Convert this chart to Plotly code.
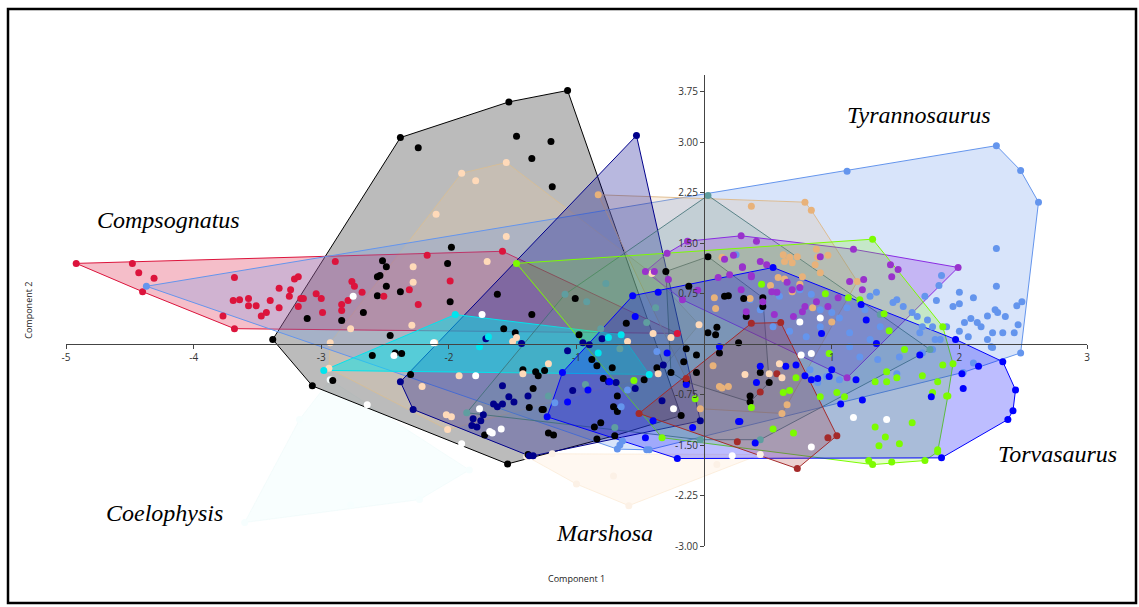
import plotly.graph_objects as go

# ---------------- data (Component 1, Component 2) ----------------
coelophysis_pts = [(-3.60, -2.65), (-3.17, -1.12), (-2.93, -0.53), (-1.84, -1.87),
                   (-2.23, -2.31), (-2.77, -2.39)]

marshosa_pts = [(-0.59, -2.40), (-1.00, -2.08), (-1.39, -1.67), (0.44, -1.64),
                (0.10, -1.79), (-0.71, -1.96), (-1.19, -1.63)]

black_pts = [(-3.38, 0.07), (-2.38, 3.07), (-1.53, 3.60), (-1.07, 3.77), (-0.18, -1.06),
             (-1.54, -1.78), (-3.07, -0.62), (-2.24, 2.92), (-1.47, 3.09), (-1.20, 3.01),
             (-1.35, 2.76), (-1.19, 2.34), (-1.98, 1.44), (-2.52, 1.24), (-2.49, 1.15),
             (-2.54, 1.02), (-2.49, 0.86), (-2.38, 0.78), (-2.01, 1.20), (-1.99, 0.63),
             (-1.62, 0.74), (-1.35, 0.44), (-1.57, 0.23), (-1.48, 0.17), (-1.01, 0.68),
             (-0.98, 0.14), (-0.61, 0.31), (-2.56, 1.00), (-2.56, 0.72), (-2.67, 0.47),
             (-3.11, 0.38), (-2.84, 0.35), (-2.91, -0.54), (-2.60, -0.17), (-2.46, 0.13),
             (-2.42, -0.13), (-2.37, -0.14), (-2.30, -0.45), (-1.42, -0.38), (-1.32, -0.41),
             (-1.30, -0.47), (-1.25, -0.39), (-1.34, -0.66), (-1.37, -0.94), (-1.27, -0.97),
             (-1.72, -1.35), (-1.22, -1.32), (-1.18, -1.35), (-1.38, -1.64), (-0.88, -0.23),
             (-0.84, -0.32), (-0.72, -0.35), (-0.79, -0.51), (-0.68, -0.77), (-0.71, -0.93),
             (-0.68, -1.00), (-0.47, -0.53), (-0.37, -0.35), (-0.86, -1.23), (-0.81, -1.17),
             (-0.84, -1.41), (-0.70, -1.36), (-1.26, -0.97)]

black2_pts = [(-0.30, 1.08), (0.03, 1.30), (-0.12, 0.86), (0.16, 0.71), (0.19, 0.72),
              (-0.14, -0.07), (-0.06, -0.16), (0.03, 0.17), (0.09, 0.14), (0.10, 0.25),
              (0.12, -0.13), (0.27, 0.02), (0.36, -0.86), (0.36, -0.77), (-0.16, -0.26),
              (-0.14, -0.56), (-0.06, -0.42), (0.31, 0.68), (0.46, 0.69), (0.46, 0.56),
              (0.33, 0.41), (0.44, -0.42), (0.51, -0.57), (-0.26, -0.42)]

peach_pts = [(-1.90, 2.54), (-1.55, 2.70), (-1.79, 2.43), (-2.10, 1.93), (-1.55, 1.60),
             (-1.70, 1.23), (-2.28, 1.15), (-2.28, 0.92), (-2.29, 0.28), (-2.77, 0.23),
             (-2.94, -0.36), (-2.93, 0.02), (-1.92, -0.47), (-2.21, -0.63), (-2.02, -1.05),
             (-1.98, -1.08), (-2.01, -1.27), (-2.11, 0.02), (-1.47, 0.10), (-1.50, 0.04),
             (-1.22, -0.29), (-1.42, -0.44), (-0.40, 0.16), (-0.26, 0.10), (-0.60, 0.04),
             (-0.04, 0.29), (-0.36, -0.44), (-0.41, 1.05)]

peach2_pts = [(0.32, -0.45), (0.51, -0.44), (0.61, -0.50), (0.59, -0.29)]

crimson_pts = [(-4.92, 1.20), (-4.48, 1.20), (-4.43, 1.06), (-4.31, 0.98), (-4.40, 0.78),
               (-3.77, 0.42), (-3.68, 0.23), (-3.68, 0.99), (-3.69, 0.65), (-3.64, 0.66),
               (-3.57, 0.68), (-3.57, 0.57), (-3.51, 0.57), (-3.47, 0.42), (-3.43, 0.47),
               (-3.40, 0.65), (-3.33, 0.54), (-3.33, 0.83), (-3.25, 0.71), (-3.24, 0.81),
               (-3.21, 0.97), (-3.18, 1.00), (-3.18, 0.56), (-3.16, 0.68), (-3.14, 0.68),
               (-3.04, 0.75), (-3.00, 0.68), (-2.99, 0.47), (-2.89, 1.23), (-2.84, 0.59),
               (-2.84, 0.50), (-2.79, 0.65), (-2.76, 0.93), (-2.74, 0.86), (-2.68, 0.77),
               (-2.17, 1.32), (-2.31, 0.81), (-2.24, 0.59), (-2.51, 0.71), (-1.99, 0.94),
               (-1.58, 1.38), (-0.21, 0.16)]

cornflower_pts = [(-4.37, 0.86), (1.12, 2.57), (2.29, 2.95), (2.48, 2.58), (2.62, 2.11),
                  (2.48, -0.13), (-0.43, -1.57), (-0.66, -1.50), (-0.68, -1.56), (-0.45, -1.57),
                  (2.29, 1.42), (2.29, 0.86), (2.00, 0.77), (2.11, 0.69), (1.86, 1.02),
                  (1.95, 0.56), (2.00, 0.60), (1.82, 0.65), (1.73, 0.71), (2.22, 0.42),
                  (2.28, 0.51), (2.30, 0.47), (2.36, 0.41), (2.45, 0.57), (2.49, 0.63),
                  (2.46, 0.29), (2.43, 0.17), (2.34, 0.17), (2.26, 0.17), (2.25, -0.04),
                  (2.22, 0.07), (2.17, 0.26), (2.14, 0.32), (2.09, 0.38), (2.04, 0.32),
                  (2.07, 0.11), (1.90, 0.26), (2.00, 0.19), (1.79, 0.26), (1.75, 0.36),
                  (1.71, 0.26), (1.67, 0.41), (1.63, 0.47), (1.56, 0.56), (1.51, 0.66),
                  (1.48, 0.62), (1.35, 0.77), (1.30, 0.71), (2.11, -0.28), (2.26, -0.05),
                  (2.03, -0.42), (1.85, 0.07), (1.79, -0.08), (1.71, -0.13), (1.53, -0.19),
                  (1.51, -0.44), (1.36, -0.23), (1.22, -0.19), (1.14, -0.04), (1.06, -0.53),
                  (0.96, -0.48), (0.89, -0.57), (0.83, -0.38), (1.84, 0.87), (1.38, 0.26),
                  (1.26, 0.51), (1.12, 0.54), (1.00, 0.47), (0.91, 0.51), (1.06, 0.39),
                  (0.91, 0.26), (0.80, 0.11), (0.67, 0.19), (0.54, 0.26), (0.44, 0.51),
                  (0.36, 0.66), (0.59, 0.71), (0.75, 0.81), (0.84, 0.74), (0.70, 0.41),
                  (1.14, 0.17), (1.30, 0.07), (1.69, 0.17), (1.81, 0.07), (-0.60, -0.68),
                  (-0.65, -0.93), (-0.37, -0.11), (-1.17, -0.87), (0.25, 1.33), (-0.64, -1.44)]

tan_pts = [(-0.83, 2.22), (0.79, 2.11), (0.84, 1.99), (0.37, 2.05), (0.62, 1.33),
           (0.67, 1.29), (0.73, 1.30), (0.63, 1.23), (0.69, 1.21), (0.88, 1.41),
           (0.97, 1.32), (0.89, 1.29), (0.87, 1.18), (0.91, 1.06), (0.63, 0.97),
           (0.75, 0.89), (0.77, 1.00), (0.69, 0.78), (0.58, 0.99), (0.52, 0.87),
           (0.36, 0.68), (0.85, 0.54), (1.00, 0.33), (1.20, 0.93), (0.14, 1.29),
           (0.08, 0.69), (0.09, 0.53), (0.12, -0.63), (0.14, -0.65), (0.19, -0.63),
           (0.07, -0.32), (-0.03, -0.96), (0.65, -0.90), (0.61, -1.03)]

navy_pts = [(-2.38, -0.56), (-0.53, 3.10), (-0.03, -1.14), (-1.34, -1.66), (-1.37, -1.66),
            (-2.28, -0.97), (-1.71, 0.08), (-1.43, 0.01), (-1.58, -0.62), (-1.53, -0.78),
            (-1.49, -0.86), (-1.58, -0.89), (-1.65, -0.89), (-1.62, -0.93), (-1.73, -1.05),
            (-1.81, -1.11), (-1.75, -1.14), (-1.82, -1.21), (-1.78, -1.23), (-1.38, -0.77),
            (-1.07, -0.10), (-0.95, 0.02), (-0.90, -0.01), (-0.80, 0.08), (-1.03, -0.69),
            (-0.75, -0.56), (-0.69, -0.57), (-0.54, -0.66), (-0.33, -0.84), (-0.32, -0.31)]

cyan_pts = [(-1.95, 0.44), (-0.65, 0.14), (-0.43, -0.45), (-2.98, -0.39), (-0.75, 0.10),
            (-0.83, -0.13), (-1.76, -0.04), (-1.69, 0.11)]

teal_pts = [(0.03, 2.21), (-1.86, -1.02), (-1.09, 0.74), (-0.92, 0.63), (-0.77, 0.90),
            (-0.81, 0.23), (-0.45, 0.32), (-0.38, 0.54), (-0.66, -0.07), (-0.93, -0.60),
            (-1.22, -0.77), (-0.70, -1.24), (1.38, 0.44), (1.77, -0.08), (0.44, -1.42),
            (-0.03, -1.42)]

purple_pts = [(1.99, 1.14), (1.17, 1.41), (0.91, 1.30), (0.29, 1.61), (0.41, 1.53),
              (1.46, 1.18), (1.52, 1.11), (1.47, 1.00), (1.25, 0.96), (1.14, 0.93),
              (1.24, 0.81), (0.88, 0.63), (0.97, 0.56), (1.05, 0.69), (0.79, 0.56),
              (0.77, 0.48), (0.70, 0.41), (0.55, 0.44), (0.57, 0.77), (0.53, 0.78),
              (0.49, 1.18), (0.44, 1.23), (0.30, 1.14), (0.29, 0.81), (0.37, 1.00),
              (0.65, 0.92), (0.69, 0.81), (0.75, 0.84), (0.46, 0.63), (0.23, 1.32),
              (0.16, 1.26), (0.11, 0.99), (0.30, 1.15), (0.20, 1.03), (0.37, 1.02),
              (-0.13, 1.53), (-0.29, 1.35), (-0.39, 1.08), (-0.46, 1.08), (-0.28, 0.96),
              (-0.17, 0.66), (-0.05, 0.80), (0.33, 0.48), (1.12, -0.50)]

lime_pts = [(-1.47, 1.20), (1.32, 1.56), (1.87, 0.26), (1.91, -0.77), (1.83, -1.60),
            (1.73, -1.73), (1.47, -1.75), (1.32, -1.79), (1.29, -1.73), (-0.33, -1.39),
            (-0.55, -0.54), (0.54, -1.26), (0.70, -1.32), (0.62, -0.72), (0.67, -0.69),
            (0.72, -0.50), (0.91, -0.78), (0.98, -0.14), (1.04, -0.72), (1.10, -0.78),
            (1.34, -0.56), (1.43, -0.56), (1.43, -0.41), (1.51, -0.50), (1.57, -0.08),
            (1.71, -0.47), (1.83, -0.56), (1.79, -0.72), (1.90, -0.77), (1.87, -0.31),
            (1.95, -0.29), (1.34, -1.23), (1.42, -1.38), (1.37, -1.51), (1.53, -1.48),
            (1.63, -1.17), (1.83, -1.57), (0.37, -0.94), (0.45, 0.89), (0.95, 0.75),
            (1.13, 0.69), (1.22, 0.66), (1.41, 0.45), (1.45, 0.20), (-0.07, -0.81)]

blue_pts = [(2.34, -0.26), (2.44, -0.68), (2.42, -0.99), (2.38, -1.12), (1.86, -1.69),
            (-0.21, -1.70), (-1.23, -1.08), (-0.56, 0.72), (-0.36, 0.77), (-0.54, 0.41),
            (0.54, 1.14), (1.97, 0.07), (2.02, -0.44), (2.03, -0.66), (2.15, -0.33),
            (0.44, -0.33), (0.40, -1.47), (0.72, -0.31), (0.64, -0.33), (0.89, -0.51),
            (0.98, -0.48), (1.00, -0.38), (1.07, -0.89), (1.19, -0.53), (1.24, -0.83),
            (1.35, 0.01), (1.69, -0.16), (1.78, -0.78), (0.79, -0.47), (0.84, -0.53),
            (0.41, -0.57), (0.28, -1.15), (-0.29, -0.13), (-0.14, -0.60), (-0.09, -1.24),
            (0.27, -1.15), (0.12, -0.04), (-0.46, -1.39), (-0.91, -0.68), (-1.07, -0.86),
            (-1.11, -0.42), (-0.74, -0.56), (-0.40, -1.14), (0.92, 0.16), (1.23, 0.59),
            (1.27, 0.36)]

brown_pts = [(-0.51, -1.03), (-0.14, -0.51), (0.37, 0.31), (0.60, 0.32), (1.04, -1.36),
             (0.97, -1.39), (0.73, -1.85), (0.26, -1.45), (0.57, -0.44), (0.44, -0.71)]

white_pts = [(-2.75, 0.71), (-1.76, -0.96), (-1.66, -1.32), (-1.59, -1.26), (-1.68, -1.30),
             (-1.79, -0.47), (-1.90, -1.48), (-1.74, 0.44), (-0.24, -0.96), (1.17, -1.09),
             (1.43, -1.12), (0.84, -1.53), (0.76, -0.16), (0.84, -0.14), (0.75, 0.33),
             (0.91, 0.39), (-2.64, -0.90), (0.22, -1.66), (-2.12, 0.02), (-2.43, -0.17)]

x_ticks = [-5, -4, -3, -2, -1, 1, 2, 3]
x_tick_text = ["-5", "-4", "-3", "-2", "-1", "1", "2", "3"]
y_ticks = [-3.0, -2.25, -1.5, -0.75, 0.75, 1.5, 2.25, 3.0, 3.75]
y_tick_text = ["-3.00", "-2.25", "-1.50", "-0.75", "0.75", "1.50", "2.25", "3.00", "3.75"]

species_labels = ["Tyrannosaurus", "Compsognatus", "Coelophysis", "Marshosa", "Torvasaurus"]
species_label_x = [1.68, -4.20, -4.23, -0.78, 2.77]
species_label_y = [3.40, 1.85, -2.51, -2.80, -1.63]

# group styles: (points, marker colour, fill colour, line colour, draw hull)
groups = [
    (coelophysis_pts, "#F6FEFE", "rgba(225,250,250,0.22)", "rgba(235,250,250,0.5)", True),
    (marshosa_pts, "#FCF1E6", "rgba(255,228,200,0.25)", "rgba(250,230,205,0.6)", True),
    (black_pts, "#000000", "rgba(120,120,120,0.50)", "#000000", True),
    (peach_pts, "#FFDAB9", "rgba(230,200,160,0.25)", "rgba(215,190,150,0.9)", True),
    (crimson_pts, "#DC143C", "rgba(220,20,60,0.28)", "#DC143C", True),
    (cornflower_pts, "#6495ED", "rgba(100,149,237,0.25)", "#6495ED", True),
    (tan_pts, "#E8B27A", "rgba(222,184,135,0.22)", "rgba(222,184,135,0.9)", True),
    (navy_pts, "#00008B", "rgba(0,0,139,0.28)", "#00008B", True),
    (cyan_pts, "#00E5EE", "rgba(0,229,238,0.50)", "#00E5EE", True),
    (teal_pts, "#5F9EA0", "rgba(95,158,160,0.18)", "rgba(60,110,115,0.8)", True),
    (black2_pts, "#000000", "rgba(47,79,79,0.12)", "rgba(47,79,79,0.7)", True),
    (purple_pts, "#9932CC", "rgba(138,43,226,0.25)", "#8A2BE2", True),
    (lime_pts, "#7CFC00", "rgba(124,252,0,0.20)", "#7CFC00", True),
    (blue_pts, "#0000FF", "rgba(0,0,255,0.26)", "#0000FF", True),
    (brown_pts, "#A52A2A", "rgba(165,42,42,0.22)", "#A52A2A", True),
    (peach2_pts, "#FFDAB9", None, None, False),
    (white_pts, "#FFFFFF", None, None, False),
]


def convex_hull(points):
    pts = sorted(set(points))
    if len(pts) < 3:
        return pts

    def cross(o, a, b):
        return (a[0] - o[0]) * (b[1] - o[1]) - (a[1] - o[1]) * (b[0] - o[0])

    lower = []
    for p in pts:
        while len(lower) >= 2 and cross(lower[-2], lower[-1], p) <= 0:
            lower.pop()
        lower.append(p)
    upper = []
    for p in reversed(pts):
        while len(upper) >= 2 and cross(upper[-2], upper[-1], p) <= 0:
            upper.pop()
        upper.append(p)
    return lower[:-1] + upper[:-1]


fig = go.Figure()

# hulls first
for pts, mcol, fcol, lcol, show in groups:
    if not show:
        continue
    h = convex_hull(pts)
    h = h + [h[0]]
    fig.add_trace(go.Scatter(
        x=[p[0] for p in h], y=[p[1] for p in h],
        mode="lines", fill="toself", fillcolor=fcol,
        line=dict(color=lcol, width=1), hoverinfo="skip", showlegend=False,
    ))

# points on top
for pts, mcol, fcol, lcol, show in groups:
    fig.add_trace(go.Scatter(
        x=[p[0] for p in pts], y=[p[1] for p in pts],
        mode="markers", marker=dict(color=mcol, size=7, line=dict(width=0)),
        showlegend=False, cliponaxis=False,
    ))

for name, lx, ly in zip(species_labels, species_label_x, species_label_y):
    fig.add_annotation(x=lx, y=ly, xref="x", yref="y", text=name, showarrow=False,
                       font=dict(family="Liberation Serif", size=24, color="#000000",
                                 style="italic"))

fig.add_annotation(x=0.5, y=-0.07, xref="paper", yref="paper", text="Component 1",
                   showarrow=False, yanchor="middle",
                   font=dict(family="Open Sans", size=9, color="#222"))
fig.add_annotation(x=-0.037, y=0.5, xref="paper", yref="paper", text="Component 2",
                   showarrow=False, textangle=-90, xanchor="center",
                   font=dict(family="Open Sans", size=9, color="#222"))

fig.add_shape(type="rect", xref="paper", yref="paper",
              x0=-0.0568, x1=1.048, y0=-0.121, y1=1.140,
              line=dict(color="black", width=2.5), fillcolor="rgba(0,0,0,0)")

axis_font = dict(family="Open Sans", size=10, color="#333333")
fig.update_layout(
    width=1139, height=607,
    margin=dict(l=66, r=52, t=75, b=61),
    paper_bgcolor="white", plot_bgcolor="white",
    xaxis=dict(range=[-5, 3], anchor="free", position=3 / 7, showline=True,
               linecolor="#444444", linewidth=1.3, ticks="outside", ticklen=4,
               tickcolor="#444444", tickvals=x_ticks, ticktext=x_tick_text,
               showgrid=False, zeroline=False, tickfont=axis_font, fixedrange=True),
    yaxis=dict(range=[-3, 4], anchor="free", position=5 / 8, showline=True,
               linecolor="#444444", linewidth=1.3, ticks="outside", ticklen=4,
               tickcolor="#444444", tickvals=y_ticks, ticktext=y_tick_text,
               showgrid=False, zeroline=False, tickfont=axis_font, fixedrange=True),
)

fig.write_html("out.html")
